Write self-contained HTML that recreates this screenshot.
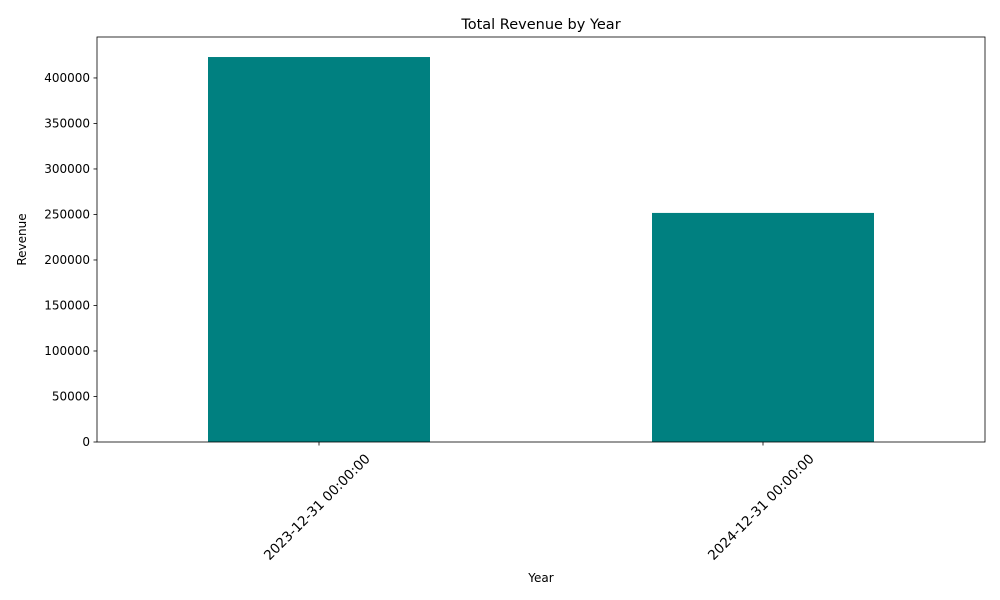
<!DOCTYPE html>
<html><head><meta charset="utf-8"><style>
body{margin:0;background:#fff;}
svg{display:block;font-family:"DejaVu Sans","Liberation Sans",sans-serif;}
</style></head><body>
<svg id="chart" width="1000" height="600"></svg>
<script>
const categories = ["2023-12-31 00:00:00", "2024-12-31 00:00:00"];
const revenue = [423000, 251700];
const yTicks = [0, 50000, 100000, 150000, 200000, 250000, 300000, 350000, 400000];

const NS = "http://www.w3.org/2000/svg";
const svg = document.getElementById("chart");
const L = 97, R = 985, T = 37, B = 442;
const yMax = 445000;
const y = v => B - v / yMax * (B - T);
const band = (R - L) / categories.length;
const xc = i => L + band * (i + 0.5);
const barW = 222;

function mk(tag, attrs, text) {
  const e = document.createElementNS(NS, tag);
  for (const k in attrs) e.setAttribute(k, attrs[k]);
  if (text !== undefined) e.textContent = text;
  svg.appendChild(e);
  return e;
}

revenue.forEach((v, i) => {
  const r = mk("rect", {x: xc(i) - barW / 2, y: y(v), width: barW, height: B - y(v), fill: "#008080"});
  
  
});

yTicks.forEach(t => {
  const yy = y(t);
  const l = mk("line", {x1: L - 3.5, x2: L, y1: yy, y2: yy, stroke: "#000", "stroke-width": 0.8});
  
  
  const tx = mk("text", {x: L - 7, y: yy + 4, "text-anchor": "end", "font-size": 12}, String(t));
  
  
});

categories.forEach((c, i) => {
  const xx = xc(i);
  const l = mk("line", {x1: xx, x2: xx, y1: B, y2: B + 3.5, stroke: "#000", "stroke-width": 0.8});
  
  
  const cx = xx - 2, cy = 507;
  const tx = mk("text", {x: cx, y: cy + 4.5, "text-anchor": "middle", "font-size": 13.5, transform: `rotate(-45 ${cx} ${cy})`}, c);
  
  
});

const frame = mk("rect", {x: L, y: T, width: R - L, height: B - T, fill: "none", stroke: "#000", "stroke-width": 0.8});



const title = mk("text", {x: (L + R) / 2, y: 29, "text-anchor": "middle", "font-size": 14.5}, "Total Revenue by Year");


const xl = mk("text", {x: (L + R) / 2, y: 582, "text-anchor": "middle", "font-size": 12}, "Year");


const yl = mk("text", {x: 26, y: (T + B) / 2, "text-anchor": "middle", "font-size": 12, transform: `rotate(-90 26 ${(T + B) / 2})`}, "Revenue");


</script>
</body></html>
